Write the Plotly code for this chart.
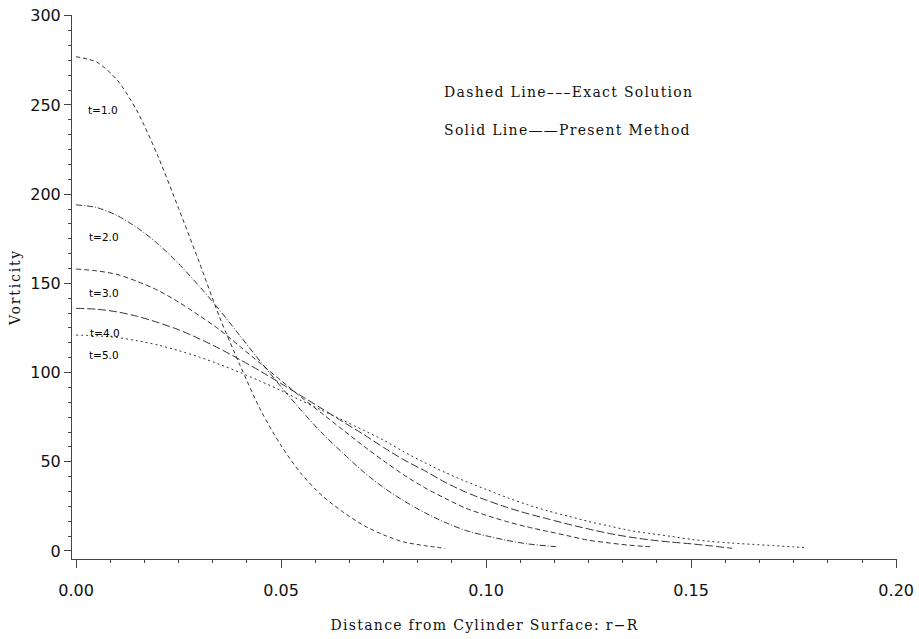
import plotly.graph_objects as go

# ---- data ----
distance = [0.000, 0.005, 0.010, 0.015, 0.020, 0.025, 0.030, 0.035, 0.040,
            0.045, 0.050, 0.055, 0.060, 0.065, 0.070, 0.075, 0.080, 0.085,
            0.090, 0.095, 0.100, 0.105, 0.110, 0.115, 0.120, 0.125, 0.130,
            0.135, 0.140, 0.145, 0.150, 0.155, 0.160, 0.165, 0.170, 0.175]

vort_t1 = [277, 274, 264, 246, 221, 192, 162, 131, 104, 79, 59, 43, 31, 22,
           14.5, 9, 5, 3, 1.5]
vort_t2 = [194, 192.5, 188, 181, 172, 161, 148.5, 135, 120.5, 106, 92, 78.5,
           66, 55, 44.5, 35.5, 28, 21.5, 16, 11.5, 8.5, 6, 4, 2.8, 2.4]
vort_t3 = [158, 157, 155, 151, 146, 139.5, 132, 124, 114.5, 105, 95.5, 86, 77,
           68, 59, 50.5, 42.5, 35.5, 29.5, 24, 20, 16.5, 13.5, 11, 8.5, 6, 4.5,
           3.2, 2.4]
vort_t4 = [136, 135.5, 134, 131.5, 128, 124, 119, 113.4, 107.2, 100.7, 93.8,
           86.8, 79.7, 72.5, 65.5, 58, 51, 45, 38.5, 33, 28.5, 24.5, 21, 18, 15,
           12.3, 9.8, 7.8, 6.2, 5, 4, 2.8, 1.5]
vort_t5 = [121, 120.6, 119.6, 117.8, 115.4, 112.3, 108.7, 104.6, 100, 95.1,
           89.9, 84.2, 78.8, 73.3, 67.8, 62.1, 55.5, 49.5, 44, 39, 34.5, 30, 26,
           22.5, 19.5, 16.5, 14, 11.5, 9.8, 8.2, 6.5, 5.3, 4.4, 3.7, 3, 2.3, 1.9]

r_t1 = distance[:19]
r_t2 = distance[:24] + [0.117]
r_t3 = distance[:29]
r_t4 = distance[:33]
r_t5 = distance[:36] + [0.178]

curve_labels = ["t=1.0", "t=2.0", "t=3.0", "t=4.0", "t=5.0"]
label_x = [0.0025, 0.0027, 0.0027, 0.0030, 0.0027]
label_y = [247, 176, 144.5, 122, 110]

legend_lines = ["Dashed Line\u2013\u2013\u2013Exact Solution",
                "Solid Line\u2014\u2014Present Method"]

x_ticks = [0.00, 0.05, 0.10, 0.15, 0.20]
y_ticks = [0, 50, 100, 150, 200, 250, 300]

# ---- figure ----
series = [(r_t1, vort_t1, "4px,3px"),
          (r_t2, vort_t2, "6px,2px,1px,2px"),
          (r_t3, vort_t3, "5px,3px"),
          (r_t4, vort_t4, "8px,3px"),
          (r_t5, vort_t5, "2px,3px")]

fig = go.Figure()
for (xs, ys, dash), name in zip(series, curve_labels):
    fig.add_trace(go.Scatter(x=xs, y=ys, mode="lines", name=name,
                             line=dict(color="#333333", width=1, dash=dash,
                                       shape="spline", smoothing=0.8),
                             showlegend=False))

serif = "DejaVu Serif"
sans = "DejaVu Sans"


def spaced(txt, sp=1.4):
    return f'<span style="letter-spacing:{sp}px">{txt}</span>'


annotations = []
for txt, lx, ly in zip(curve_labels, label_x, label_y):
    annotations.append(dict(x=lx, y=ly, xref="x", yref="y", text=txt,
                            showarrow=False, xanchor="left", yanchor="middle",
                            font=dict(family=sans, size=10.5, color="#000")))
annotations.append(dict(x=0.0893, y=257.5, xref="x", yref="y",
                        text=spaced(legend_lines[0], 1.3),
                        showarrow=False, xanchor="left", yanchor="middle",
                        font=dict(family=serif, size=14, color="#111")))
annotations.append(dict(x=0.0893, y=236, xref="x", yref="y",
                        text=spaced(legend_lines[1], 1.3),
                        showarrow=False, xanchor="left", yanchor="middle",
                        font=dict(family=serif, size=14, color="#111")))

fig.update_layout(
    width=919, height=639,
    margin=dict(l=72, r=22, t=15, b=80),
    paper_bgcolor="white", plot_bgcolor="white",
    annotations=annotations,
    xaxis=dict(range=[-0.001, 0.2002], tickvals=x_ticks,
               ticktext=[f"{v:.2f}" for v in x_ticks],
               showgrid=False, zeroline=False, showline=True,
               linecolor="#444", linewidth=1, automargin=False,
               ticks="outside", ticklen=8, tickcolor="#444",
               ticklabelstandoff=9, ticklabeloverflow="allow",
               tickfont=dict(family=sans, size=16, color="#111"),
               minor=dict(dtick=0.05 / 6, tick0=0, ticks="outside", ticklen=3,
                          tickcolor="#444", showgrid=False),
               title=dict(text=spaced("Distance from Cylinder Surface: r\u2212R", 1.3),
                          font=dict(family=serif, size=14, color="#111"),
                          standoff=20)),
    yaxis=dict(range=[-4.5, 300.4], tickvals=y_ticks,
               showgrid=False, zeroline=False, showline=True,
               linecolor="#444", linewidth=1, automargin=False,
               ticks="outside", ticklen=7, tickcolor="#444",
               ticklabeloverflow="allow",
               tickfont=dict(family=sans, size=16, color="#111"),
               minor=dict(dtick=50 / 6, tick0=0, ticks="outside", ticklen=3,
                          tickcolor="#444", showgrid=False),
               title=dict(text=spaced("Vorticity", 1.8),
                          font=dict(family=serif, size=14, color="#111"),
                          standoff=6)),
)

# remove the browser's default 8px page margin so the figure fills the window
fig.write_html("out.html",
               config={"displayModeBar": False},
               post_script="document.body.style.margin='0';"
                           "document.body.style.overflow='hidden';")
